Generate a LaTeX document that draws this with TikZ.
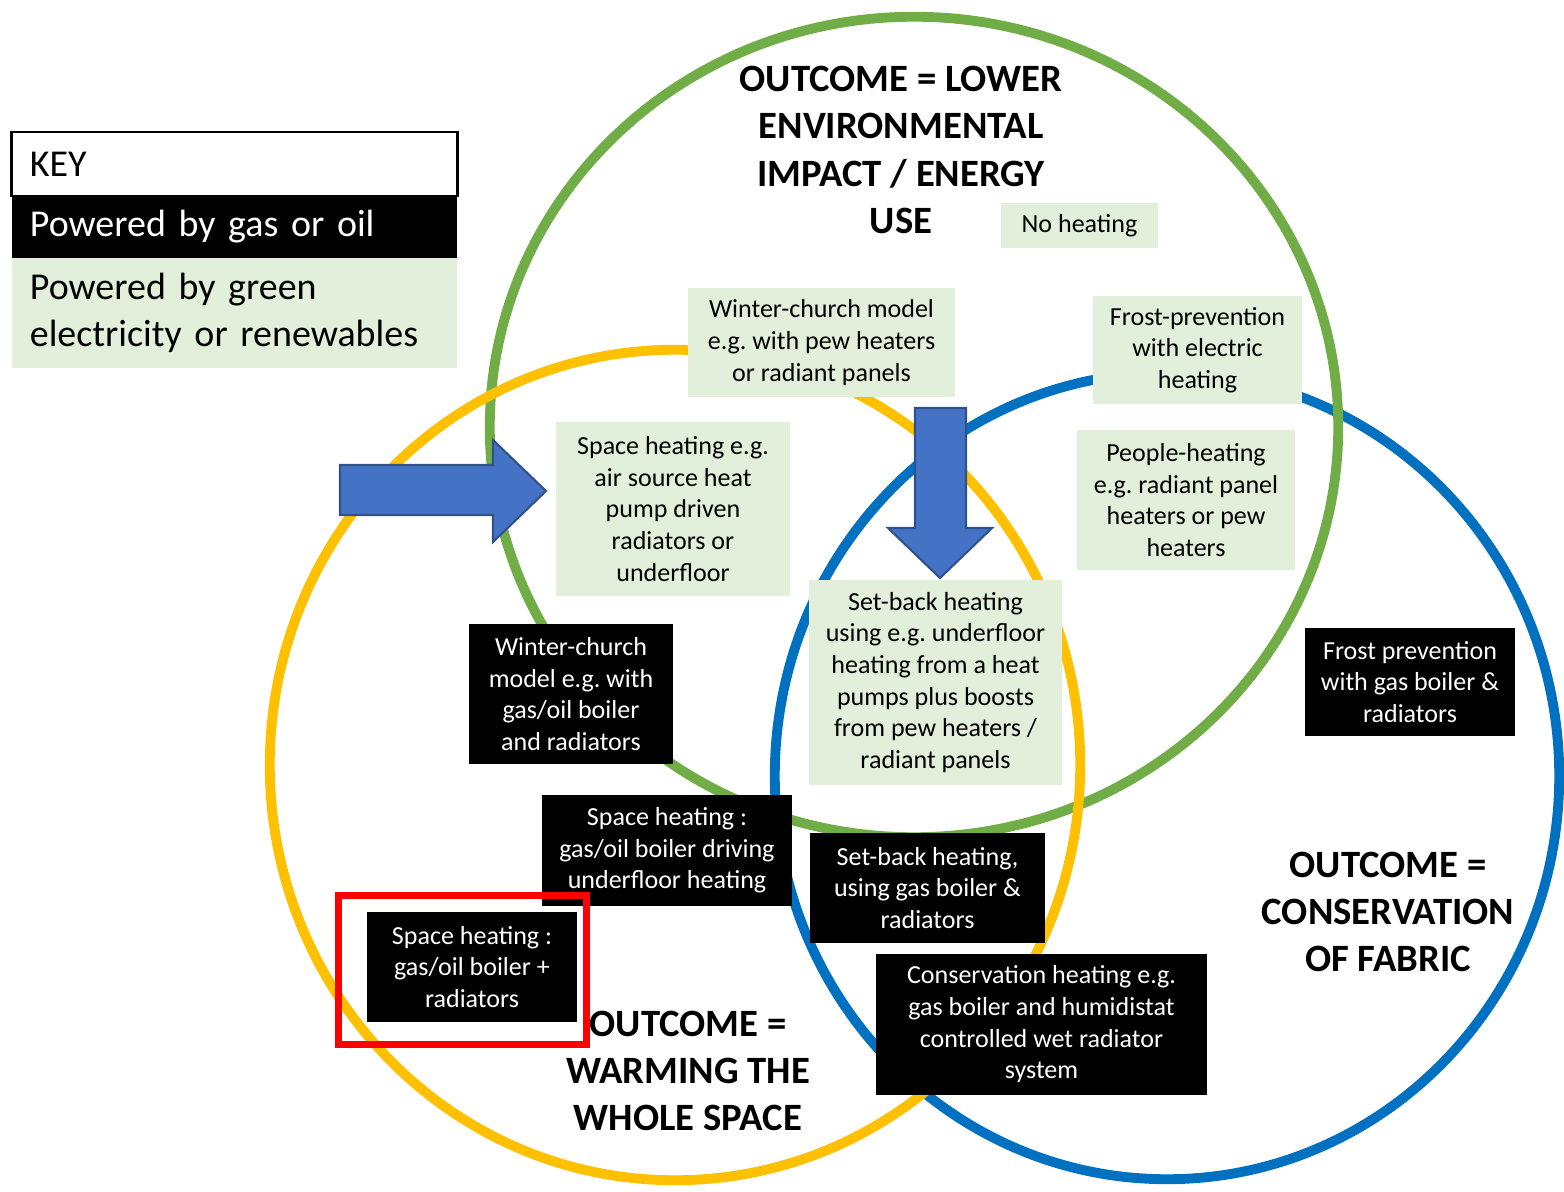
\documentclass[tikz,border=0pt]{standalone}
\usepackage{fontspec}
\setmainfont{Carlito}
\usepackage{xcolor}
\usetikzlibrary{positioning}
\frenchspacing
\definecolor{ringgreen}{HTML}{70AD47}
\definecolor{ringyellow}{HTML}{FFC000}
\definecolor{ringblue}{HTML}{0070C0}
\definecolor{palegreen}{HTML}{E2EFDA}
\definecolor{arrowblue}{HTML}{4472C4}
\definecolor{arrowedge}{HTML}{2F528F}
\tikzset{
	% aneis
	ring/.style={line width=2.8pt},
	% caixas dentro dos circulos
	greenbox/.style={
		fill=palegreen,
		text=black,
		align=center,
		inner sep=0pt,
		font=\fontsize{7.4}{9}\selectfont
	}, %
	blackbox/.style={
		fill=black,
		text=white,
		align=center,
		inner sep=0pt,
		font=\fontsize{7.4}{9}\selectfont
	}, %
	% chave
	keyrow/.style={
		minimum width=4.45cm,
		inner xsep=0.18cm,
		inner ysep=0pt,
		outer sep=0pt,
		text width=4.09cm,
		align=left,
		font=\fontsize{10.8}{13.4}\selectfont
	}, %
	outcome/.style={
		align=center,
		inner sep=0pt,
		font=\bfseries\fontsize{11}{13.4}\selectfont
	}, %
	blockarrow/.style={fill=arrowblue, draw=arrowedge, line width=0.6pt, line join=miter}
}

\begin{document}
\begin{tikzpicture}[x=0.01cm, y=-0.01cm]
	\useasboundingbox (0,0) rectangle (1564,1192);

	% circulos
	\draw[ring, ringblue] (1167,776) ellipse [x radius=3.92cm, y radius=4.03cm];
	\draw[ring, ringgreen] (914,427) ellipse [x radius=4.24cm, y radius=4.10cm];
	\draw[ring, ringyellow] (675,765) ellipse [x radius=4.05cm, y radius=4.15cm];

	% chave
	\node[keyrow, draw=black, line width=0.8pt, minimum height=0.64cm] (key) at (234.5,164) {KEY};
	\node[keyrow, fill=black, text=white, minimum height=0.62cm, below=0pt of key] (keygas) {Powered by gas or oil};
	\node[keyrow, fill=palegreen, minimum height=1.10cm, below=0pt of keygas] (keyrenew) {Powered by green\\electricity or renewables};

	% resultados
	\node[outcome] (lower) at (901,150) {OUTCOME = LOWER\\ENVIRONMENTAL\\IMPACT / ENERGY\\USE};
	\node[outcome] (warming) at (688,1071) {OUTCOME =\\WARMING THE\\WHOLE SPACE};
	\node[outcome] (fabric) at (1388,912) {OUTCOME =\\CONSERVATION\\OF FABRIC};

	% caixas verdes
	\node[greenbox, minimum width=1.57cm, minimum height=0.45cm] (noheat) at (1079.5,225.5) {No heating};
	\node[greenbox, minimum width=2.67cm, minimum height=1.09cm] (winterg) at (821.5,342.5) {Winter-church model\\e.g. with pew heaters\\or radiant panels};
	\node[greenbox, minimum width=2.09cm, minimum height=1.08cm] (frostg) at (1197.5,350) {Frost-prevention\\with electric\\heating};
	\node[greenbox, minimum width=2.34cm, minimum height=1.74cm] (spaceg) at (673,509) {Space heating e.g.\\air source heat\\pump driven\\radiators or\\underfloor};
	\node[greenbox, minimum width=2.18cm, minimum height=1.40cm] (peopleg) at (1186,500) {People-heating\\e.g. radiant panel\\heaters or pew\\heaters};
	\node[greenbox, minimum width=2.53cm, minimum height=2.05cm] (setbackg) at (935.5,682.5) {Set-back heating\\using e.g. underfloor\\heating from a heat\\pumps plus boosts\\from pew heaters /\\radiant panels};

	% caixas pretas
	\node[blackbox, minimum width=2.04cm, minimum height=1.40cm] (winterb) at (571,694) {Winter-church\\model e.g. with\\gas/oil boiler\\and radiators};
	\node[blackbox, minimum width=2.10cm, minimum height=1.08cm] (frostb) at (1410,682) {Frost prevention\\with gas boiler \&\\radiators};
	\node[blackbox, minimum width=2.50cm, minimum height=1.11cm] (underb) at (667,850.5) {Space heating :\\gas/oil boiler driving\\underfloor heating};
	\node[blackbox, minimum width=2.35cm, minimum height=1.10cm] (setbackb) at (927.5,888) {Set-back heating,\\using gas boiler \&\\radiators};
	\node[blackbox, minimum width=2.10cm, minimum height=1.10cm] (radb) at (472,967) {Space heating :\\gas/oil boiler +\\radiators};
	\node[blackbox, minimum width=3.31cm, minimum height=1.41cm] (conservb) at (1041.5,1024.5) {Conservation heating e.g.\\gas boiler and humidistat\\controlled wet radiator\\system};

	% setas
	\filldraw[blockarrow] (340,465) -- (493,465) -- (493,440) -- (546,491) -- (493,542) -- (493,515) -- (340,515) -- cycle;
	\filldraw[blockarrow] (915,408) -- (966,408) -- (966,528) -- (992,528) -- (940,578) -- (888,528) -- (915,528) -- cycle;

	% destaque
	\node[draw=red, line width=2pt, minimum width=2.48cm, minimum height=1.49cm] (highlight) at (462.5,970) {};
\end{tikzpicture}
\end{document}
